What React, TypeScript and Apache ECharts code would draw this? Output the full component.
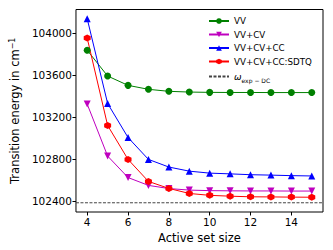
import React, { useEffect, useRef } from "react";
import * as echarts from "echarts";

const activeSizes = [4, 5, 6, 7, 8, 9, 10, 11, 12, 13, 14, 15];
const vv = [103840, 103594, 103505, 103467, 103448, 103441, 103438, 103437, 103437, 103436, 103436, 103436];
const vvcv = [103326, 102830, 102625, 102550, 102520, 102505, 102500, 102498, 102497, 102497, 102496, 102496];
const vvcvcc = [104141, 103332, 103007, 102798, 102725, 102686, 102667, 102660, 102652, 102648, 102643, 102640];
const sdtq = [103956, 103122, 102798, 102588, 102521, 102473, 102455, 102447, 102441, 102440, 102438, 102437];
const expDC = 102384;
const xTicks = [4, 6, 8, 10, 12, 14];
const yTicks = [102400, 102800, 103200, 103600, 104000];
const xRange = [3.45, 15.55];
const yRange = [102296, 104229];

const hexagon = "path://M0,-1 L0.866,-0.5 L0.866,0.5 L0,1 L-0.866,0.5 L-0.866,-0.5 Z";

export default function App() {
  const ref = useRef<HTMLDivElement>(null);
  useEffect(() => {
    if (!ref.current) return;
    const chart = echarts.init(ref.current, null, { renderer: "svg" });
    const pair = (ys: number[]) => activeSizes.map((x, i) => [x, ys[i]]);
    const font = "DejaVu Sans";
    const mk = (name: string, ys: number[], color: string, symbol: string, size: number, rot = 0) => ({
      name,
      type: "line",
      data: pair(ys),
      symbol,
      symbolSize: size,
      symbolRotate: rot,
      lineStyle: { color, width: 1 },
      itemStyle: { color },
      color,
      z: 3,
    });
    chart.setOption({
      animation: false,
      textStyle: { fontFamily: font },
      grid: {
        left: 70,
        top: 9.5,
        right: 10,
        bottom: 38,
        show: true,
        borderColor: "#000",
        borderWidth: 1,
        backgroundColor: "transparent",
      },
      legend: {
        orient: "vertical",
        left: 208,
        top: 16,
        padding: 0,
        itemWidth: 20,
        itemHeight: 7,
        itemGap: 3.5,
        textStyle: {
          fontFamily: font,
          fontSize: 8.7,
          color: "#000",
          lineHeight: 10,
          rich: {
            w: { fontSize: 9, fontStyle: "italic", fontFamily: font, color: "#000" },
            sub: { fontSize: 6, fontFamily: font, color: "#000", verticalAlign: "bottom", lineHeight: 13 },
          },
        },
        formatter: (n: string) => (n === "exp" ? "{w|ω}{sub|exp − DC}" : n),
        data: [
          "VV",
          "VV+CV",
          "VV+CV+CC",
          "VV+CV+CC:SDTQ",
          { name: "exp", itemStyle: { opacity: 0 } },
        ],
      },
      xAxis: {
        type: "value",
        min: xRange[0],
        max: xRange[1],
        splitLine: { show: false },
        axisLine: { show: false },
        axisTick: { show: true, length: 3.5, lineStyle: { color: "#000" }, customValues: xTicks },
        axisLabel: { color: "#000", fontSize: 10.5, margin: 4, customValues: xTicks, formatter: (v: number) => String(v) },
        name: "Active set size",
        nameLocation: "middle",
        nameGap: 16,
        nameTextStyle: { fontSize: 11.5, color: "#000", fontFamily: font, verticalAlign: "top" },
      },
      yAxis: {
        type: "value",
        min: yRange[0],
        max: yRange[1],
        splitLine: { show: false },
        axisLine: { show: false },
        axisTick: { show: true, length: 3.5, lineStyle: { color: "#000" }, customValues: yTicks },
        axisLabel: { color: "#000", fontSize: 10.5, margin: 4, customValues: yTicks, formatter: (v: number) => String(v) },
        name: "Transition energy in cm{sup|−1}",
        nameLocation: "middle",
        nameGap: 46,
        nameRotate: 90,
        nameTextStyle: {
          fontSize: 11.5,
          color: "#000",
          fontFamily: font,
          rich: { sup: { fontSize: 8, color: "#000", fontFamily: font, verticalAlign: "top", lineHeight: 14 } },
        },
      },
      series: [
        mk("VV", vv, "#008000", "circle", 7),
        mk("VV+CV", vvcv, "#bf00bf", "triangle", 7, 180),
        mk("VV+CV+CC", vvcvcc, "#0000ff", "triangle", 7),
        mk("VV+CV+CC:SDTQ", sdtq, "#ff0000", hexagon, 7),
        {
          name: "exp",
          type: "line",
          data: [[xRange[0], expDC], [xRange[1], expDC]],
          symbol: "none",
          lineStyle: { color: "#444", width: 1, type: [3, 1.5] },
          itemStyle: { color: "#444" },
          z: 2,
        },
      ],
    });
    return () => chart.dispose();
  }, []);
  return <div ref={ref} style={{ width: 333, height: 250, position: "absolute", left: 0, top: 0 }} />;
}
